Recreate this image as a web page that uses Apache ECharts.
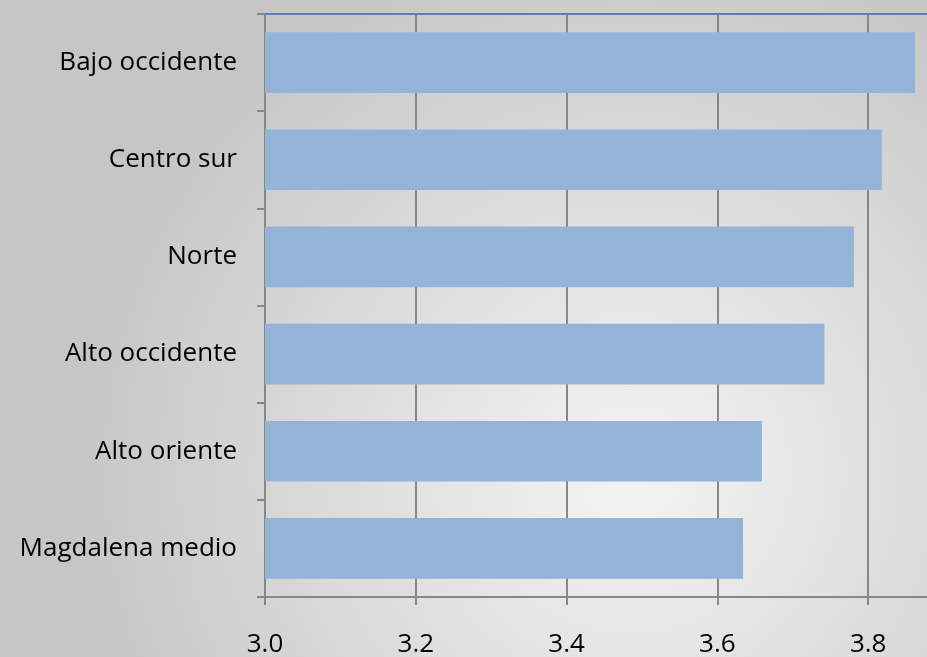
<!DOCTYPE html>
<html>
<head>
<meta charset="utf-8">
<script src="https://cdn.jsdelivr.net/npm/echarts@6/dist/echarts.min.js"></script>
<style>
html,body{margin:0;padding:0;}
#chart{width:927px;height:657px;}
</style>
</head>
<body>
<div id="chart"></div>
<script>
var categories = ["Bajo occidente", "Centro sur", "Norte", "Alto occidente", "Alto oriente", "Magdalena medio"];
var values = [3.862, 3.818, 3.781, 3.742, 3.659, 3.634];
var xMin = 3.0, xMax = 4.0, xStep = 0.2;

var chart = echarts.init(document.getElementById('chart'), null, {renderer: 'canvas'});
var font = '"Open Sans", "Liberation Sans", sans-serif';
var axisGray = '#878787';
chart.setOption({
  animation: false,
  backgroundColor: {
    type: 'radial', x: 0.68, y: 0.72, r: 0.85,
    colorStops: [{offset: 0, color: '#f4f4f4'}, {offset: 1, color: '#c6c6c6'}]
  },
  grid: {left: 265, top: 14, width: 754, bottom: 60, outerBoundsMode: 'none'},
  xAxis: [{
    type: 'value', min: xMin, max: xMax, interval: xStep,
    axisLine: {show: true, lineStyle: {color: axisGray, width: 2}},
    axisTick: {show: true, length: 8, lineStyle: {color: axisGray, width: 2}},
    splitLine: {show: true, lineStyle: {color: axisGray, width: 2}},
    axisLabel: {color: '#000', fontSize: 26, fontFamily: font, margin: 35,
      formatter: function (v) { return v.toFixed(1); }}
  }, {
    type: 'value', position: 'top', min: xMin, max: xMax, interval: xStep,
    axisLine: {show: true, lineStyle: {color: '#5a7fb0', width: 2}},
    axisTick: {show: false}, axisLabel: {show: false}, splitLine: {show: false}
  }],
  yAxis: {
    type: 'category', data: categories, inverse: true,
    axisLine: {show: true, lineStyle: {color: axisGray, width: 2}},
    axisTick: {show: true, length: 8, lineStyle: {color: axisGray, width: 2}},
    axisLabel: {color: '#000', fontSize: 26, fontFamily: font, margin: 28}
  },
  series: [{
    type: 'bar', data: values, barCategoryGap: '37.5%',
    itemStyle: {color: '#95b3d7'}, xAxisIndex: 0
  }]
});
</script>
</body>
</html>
